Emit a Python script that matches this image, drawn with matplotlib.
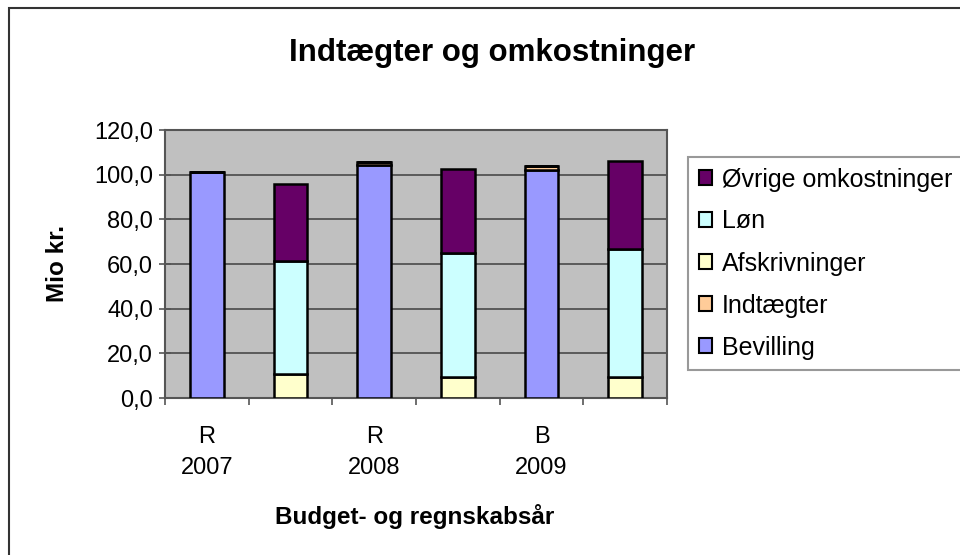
import numpy as np
import matplotlib
matplotlib.use("Agg")
import matplotlib.pyplot as plt
from matplotlib.patches import Rectangle, Patch

plt.rcParams['font.family'] = ['Liberation Sans', 'DejaVu Sans']

# data (Mio kr.)
categories = ["R\n2007", "", "R\n2008", "", "B\n2009", ""]
bevilling = [101.0, 0.0, 104.3, 0.0, 102.3, 0.0]
indtaegter = [0.0, 0.0, 1.2, 0.0, 1.4, 0.0]
afskrivninger = [0.0, 10.7, 0.0, 9.2, 0.0, 9.2]
loen = [0.0, 50.6, 0.0, 55.8, 0.0, 57.6]
oevrige = [0.0, 34.4, 0.0, 37.7, 0.0, 39.5]

series = [
    ("Bevilling", bevilling, "#9999FF"),
    ("Indtægter", indtaegter, "#FFCC99"),
    ("Afskrivninger", afskrivninger, "#FFFFCC"),
    ("Løn", loen, "#CCFFFF"),
    ("Øvrige omkostninger", oevrige, "#660066"),
]

W, H = 960, 555
fig = plt.figure(figsize=(W / 100, H / 100), dpi=100)
fig.patch.set_facecolor("white")

ax = fig.add_axes([165 / W, 1 - 398 / H, 502 / W, 268 / H])
ax.set_facecolor("#C0C0C0")

x = np.arange(len(categories))
bottom = np.zeros(len(categories))
handles = []
for name, vals, col in series:
    vals = np.array(vals)
    ax.bar(x, vals, width=0.4, bottom=bottom, color=col, edgecolor="black",
           linewidth=1.8, zorder=3)
    bottom += vals
    handles.append(Patch(facecolor=col, edgecolor="black", linewidth=1.5, label=name))

ax.set_xlim(-0.5, len(categories) - 0.5)
ax.set_ylim(0, 120)
ax.set_yticks(np.arange(0, 121, 20))
ax.yaxis.set_major_formatter(matplotlib.ticker.FuncFormatter(lambda v, p: ("%.1f" % v).replace(".", ",")))
ax.grid(axis="y", color="#4a4a4a", linewidth=1.2, zorder=1)

ax.set_xticks(np.arange(-0.5, len(categories), 1.0))
ax.set_xticklabels([])
ax.set_xticks(x, minor=True)
ax.set_xticklabels(categories, minor=True, fontsize=17, linespacing=1.55)
ax.tick_params(axis="x", which="major", direction="out", length=5, width=1.2, color="#555555")
ax.tick_params(axis="x", which="minor", length=0, pad=20)
ax.tick_params(axis="y", direction="inout", length=9, width=1.2, color="#555555", labelsize=17, pad=4)

for s in ax.spines.values():
    s.set_color("#555555")
    s.set_linewidth(1.5)

fig.text(492 / W, 1 - 61 / H, "Indtægter og omkostninger", fontsize=22.5,
         fontweight="bold", ha="center", va="baseline")
fig.text(415 / W, 1 - 524 / H, "Budget- og regnskabsår", fontsize=17.5,
         fontweight="bold", ha="center", va="baseline")
fig.text(57 / W, 1 - 264 / H, "Mio kr.", fontsize=17.5, fontweight="bold",
         ha="center", va="center", rotation=90)

leg = fig.legend(handles=handles[::-1], loc="upper left",
                 bbox_to_anchor=(688 / W, 1 - 157 / H), fontsize=18,
                 frameon=True, fancybox=False, handlelength=0.55, handleheight=0.55,
                 handletextpad=0.4, labelspacing=0.72, borderpad=0.42,
                 borderaxespad=0)
leg.get_frame().set_edgecolor("#808080")
leg.get_frame().set_linewidth(1.5)

fig.add_artist(Rectangle((9 / W, -0.1), 1.2, 1 - 8 / H + 0.1, transform=fig.transFigure,
                         fill=False, edgecolor="#333333", linewidth=1.5, clip_on=False))

fig.savefig("out.png", dpi=100)
